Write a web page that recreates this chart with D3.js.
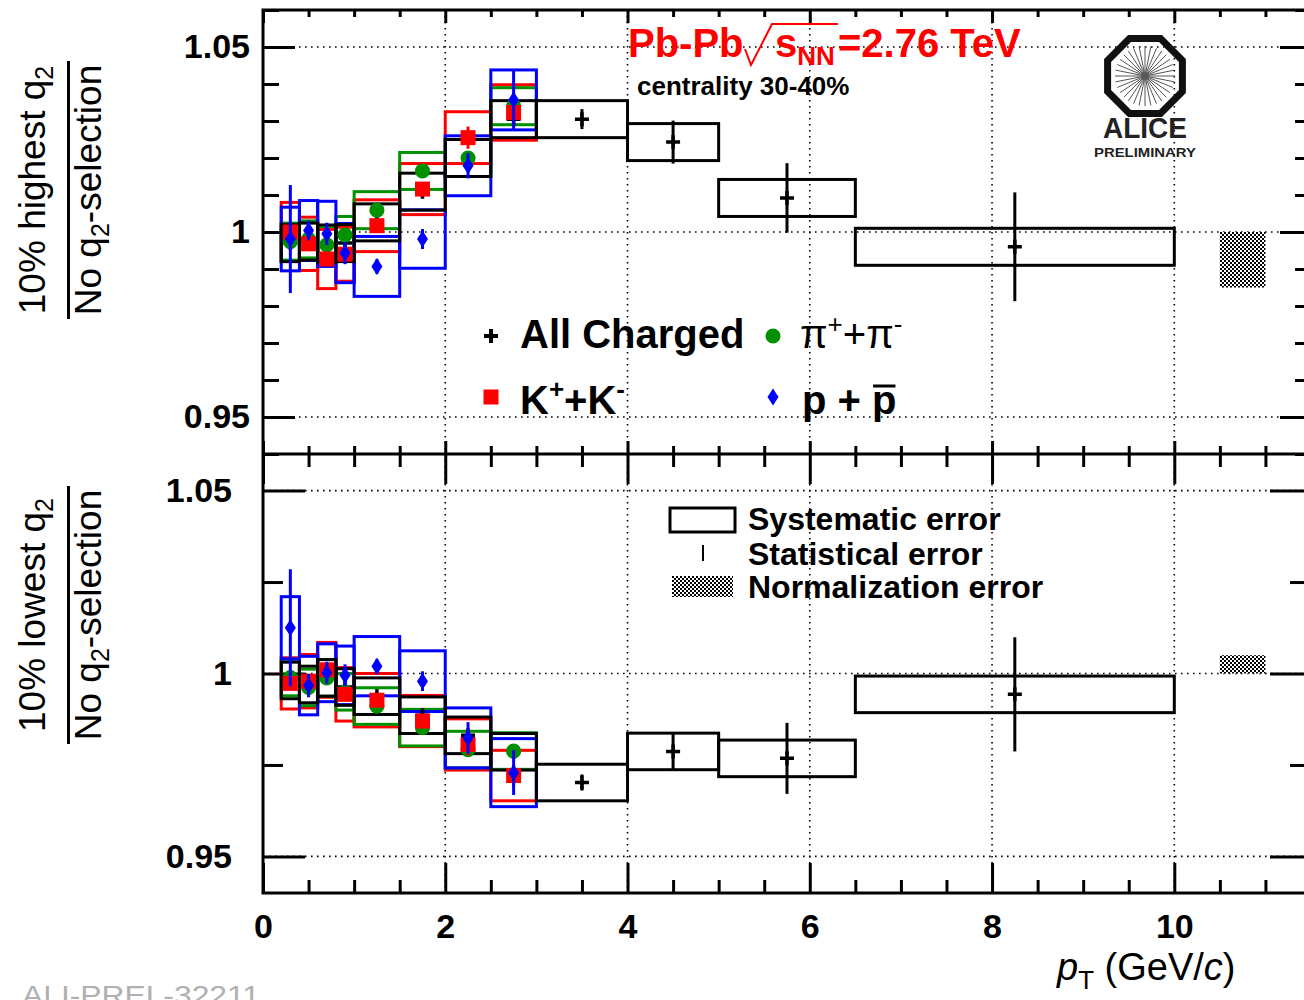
<!DOCTYPE html>
<html lang="en">
<head>
<meta charset="utf-8">
<title>q2 selection ratio</title>
<script src="https://cdn.jsdelivr.net/npm/d3@7"></script>
<style>
  body { margin: 0; background: #fff; }
  svg { display: block; }
  text { font-family: "Liberation Sans", Arial, sans-serif; }
  .tlab { font-weight: bold; font-size: 34px; }
</style>
</head>
<body>
<script>
// ---- bins (pT, GeV/c) ----
var idLo = [0.2, 0.4, 0.6, 0.8, 1.0, 1.5, 2.0, 2.5];
var idHi = [0.4, 0.6, 0.8, 1.0, 1.5, 2.0, 2.5, 3.0];
var idPt = [0.3, 0.5, 0.7, 0.9, 1.25, 1.75, 2.25, 2.75];
var chLo = [0.2, 0.4, 0.6, 0.8, 1.0, 1.5, 2.0, 2.5, 3.0, 4.0, 5.0, 6.5];
var chHi = [0.4, 0.6, 0.8, 1.0, 1.5, 2.0, 2.5, 3.0, 4.0, 5.0, 6.5, 10.0];
var chPt = [0.3, 0.5, 0.7, 0.9, 1.25, 1.75, 2.25, 2.75, 3.5, 4.5, 5.75, 8.25];

// ---- 10% highest q2 ----
var chHigh     = [0.997, 0.9974, 0.9969, 0.9970, 1.0026, 1.0109, 1.0200, 1.0305, 1.0305, 1.0243, 1.0092, 0.9960];
var chHighStat = [0.001, 0.001, 0.001, 0.001, 0.001, 0.001, 0.001, 0.0015, 0.0027, 0.0058, 0.0094, 0.0147];
var chHighSys  = [0.005, 0.005, 0.005, 0.005, 0.005, 0.005, 0.005, 0.005, 0.005, 0.005, 0.005, 0.005];
var piHigh     = [0.9974, 0.9980, 0.9965, 0.9992, 1.0059, 1.0165, 1.0200, 1.0340];
var piHighStat = [0.001, 0.001, 0.001, 0.001, 0.001, 0.001, 0.0015, 0.0015];
var piHighSys  = [0.005, 0.005, 0.005, 0.005, 0.005, 0.005, 0.005, 0.005];
var kHigh      = [1.0000, 0.9968, 0.9927, 0.9940, 1.0017, 1.0116, 1.0255, 1.0323];
var kHighStat  = [0.0015, 0.0015, 0.0015, 0.0015, 0.0015, 0.0015, 0.003, 0.003];
var kHighSys   = [0.008, 0.0072, 0.008, 0.0073, 0.007, 0.0069, 0.007, 0.0075];
var pHigh      = [0.9981, 1.0004, 0.9995, 0.9943, 0.9907, 0.9981, 1.0179, 1.0357];
var pHighStat  = [0.0146, 0.0027, 0.003, 0.003, 0.002, 0.0027, 0.0034, 0.0079];
var pHighSys   = [0.0086, 0.0081, 0.0088, 0.008, 0.0081, 0.0079, 0.0081, 0.0081];
var normHigh   = [0.985, 1.0];

// ---- 10% lowest q2 ----
var chLow     = [0.9981, 0.9970, 0.9988, 0.9963, 0.9938, 0.9886, 0.9831, 0.9786, 0.9702, 0.9787, 0.9768, 0.9943];
var chLowStat = [0.001, 0.001, 0.001, 0.001, 0.001, 0.001, 0.001, 0.001, 0.0022, 0.0052, 0.0097, 0.0156];
var chLowSys  = [0.005, 0.005, 0.005, 0.005, 0.005, 0.005, 0.005, 0.005, 0.005, 0.005, 0.005, 0.005];
var piLow     = [0.9989, 0.9962, 0.9988, 0.9950, 0.9911, 0.9852, 0.9792, 0.9788];
var piLowStat = [0.001, 0.001, 0.001, 0.001, 0.001, 0.001, 0.0015, 0.0015];
var piLowSys  = [0.005, 0.005, 0.005, 0.005, 0.005, 0.005, 0.005, 0.005];
var kLow      = [0.9973, 0.9979, 1.0010, 0.9943, 0.9927, 0.9870, 0.9806, 0.9721];
var kLowStat  = [0.0015, 0.0015, 0.0015, 0.0015, 0.0015, 0.0015, 0.003, 0.003];
var kLowSys   = [0.007, 0.0073, 0.0075, 0.0073, 0.0073, 0.007, 0.007, 0.0069];
var pLow      = [1.0125, 0.9967, 1.0002, 0.9995, 1.0020, 0.9979, 0.9824, 0.9729];
var pLowStat  = [0.016, 0.0032, 0.003, 0.003, 0.002, 0.0027, 0.0043, 0.0061];
var pLowSys   = [0.0085, 0.008, 0.0079, 0.008, 0.0081, 0.0083, 0.0082, 0.0093];
var normLow   = [1.0, 1.005];
var normPt    = [10.5, 11.0];

// ---- axes ----
var xMajor = [0, 2, 4, 6, 8, 10];
var xTickLabels = ["0", "2", "4", "6", "8", "10"];
var yMajor = [0.95, 1, 1.05];
var yTickLabels = ["0.95", "1", "1.05"];

var w = 1304, h = 1000;
var xL = 263, xR = 1311, yT = 10, yM = 454, yB = 893;

var svg = d3.select("body").append("svg").attr("width", w).attr("height", h);

var defs = svg.append("defs");
var pat = defs.append("pattern").attr("id", "chk").attr("width", 4).attr("height", 4)
    .attr("patternUnits", "userSpaceOnUse");
pat.append("rect").attr("width", 4).attr("height", 4).attr("fill", "#fff");
pat.append("rect").attr("width", 2).attr("height", 2).attr("fill", "#000");
pat.append("rect").attr("x", 2).attr("y", 2).attr("width", 2).attr("height", 2).attr("fill", "#000");

var x = d3.scaleLinear().domain([0, 11.5]).range([xL, xR]);
var yHi = d3.scaleLinear().domain([0.94, 1.06]).range([yM, yT]);
var yLo = d3.scaleLinear().domain([0.94, 1.06]).range([yB, yM]);

var xMinor = d3.range(1, 23).map(function(v) { return v / 2; }).filter(function(v) { return v % 2 !== 0; });

// grid (dotted)
function grid(y, top, bottom) {
    var g = svg.append("g").attr("stroke", "#000").attr("stroke-width", 1.6)
        .attr("stroke-dasharray", "1.6,4.4");
    xMajor.slice(1).forEach(function(v) {
        g.append("line").attr("x1", x(v)).attr("x2", x(v)).attr("y1", top).attr("y2", bottom);
    });
    yMajor.forEach(function(v) {
        g.append("line").attr("x1", xL).attr("x2", xR).attr("y1", y(v)).attr("y2", y(v));
    });
}
grid(yHi, yT, yM);
grid(yLo, yM, yB);

function addAxis(axis, tr) {
    var g = svg.append("g").attr("transform", tr).call(axis);
    g.select(".domain").remove();
    g.selectAll(".tick line").attr("stroke", "#000").attr("stroke-width", 3);
    return g;
}
function fmtY(d) { return yTickLabels[yMajor.indexOf(d)] || ""; }

// top panel y ticks
var yHiMinor = d3.range(94, 107).map(function(v) { return v / 100; })
    .filter(function(v) { return yMajor.indexOf(v) < 0; });
addAxis(d3.axisLeft(yHi).tickValues(yMajor).tickSizeInner(-32).tickSizeOuter(0).tickPadding(13).tickFormat(fmtY), "translate(" + xL + ",0)")
    .selectAll("text").attr("class", "tlab").attr("fill", "#000");
addAxis(d3.axisLeft(yHi).tickValues(yHiMinor).tickSizeInner(-16).tickSizeOuter(0).tickFormat(""), "translate(" + xL + ",0)");
addAxis(d3.axisRight(yHi).tickValues(yMajor).tickSizeInner(-31).tickSizeOuter(0).tickFormat(""), "translate(" + xR + ",0)");
addAxis(d3.axisRight(yHi).tickValues(yHiMinor).tickSizeInner(-16).tickSizeOuter(0).tickFormat(""), "translate(" + xR + ",0)");

// bottom panel y ticks
var yLoMinor = [0.975, 1.025];
addAxis(d3.axisLeft(yLo).tickValues(yMajor).tickSizeInner(-42).tickSizeOuter(0).tickPadding(31).tickFormat(fmtY), "translate(" + xL + ",0)")
    .selectAll("text").attr("class", "tlab").attr("fill", "#000");
addAxis(d3.axisLeft(yLo).tickValues(yLoMinor).tickSizeInner(-20).tickSizeOuter(0).tickFormat(""), "translate(" + xL + ",0)");
addAxis(d3.axisRight(yLo).tickValues(yMajor).tickSizeInner(-41).tickSizeOuter(0).tickFormat(""), "translate(" + xR + ",0)");
addAxis(d3.axisRight(yLo).tickValues(yLoMinor).tickSizeInner(-21).tickSizeOuter(0).tickFormat(""), "translate(" + xR + ",0)");

// x ticks
addAxis(d3.axisTop(x).tickValues(xMajor).tickSizeInner(-13).tickSizeOuter(0).tickFormat(""), "translate(0," + yT + ")");
addAxis(d3.axisTop(x).tickValues(xMinor).tickSizeInner(-7).tickSizeOuter(0).tickFormat(""), "translate(0," + yT + ")");
addAxis(d3.axisBottom(x).tickValues(xMajor).tickSizeInner(-13).tickSizeOuter(0).tickFormat(""), "translate(0," + yM + ")");
addAxis(d3.axisBottom(x).tickValues(xMinor).tickSizeInner(-8).tickSizeOuter(0).tickFormat(""), "translate(0," + yM + ")");
addAxis(d3.axisTop(x).tickValues(xMajor).tickSizeInner(-30).tickSizeOuter(0).tickFormat(""), "translate(0," + yM + ")");
addAxis(d3.axisTop(x).tickValues(xMinor).tickSizeInner(-13).tickSizeOuter(0).tickFormat(""), "translate(0," + yM + ")");
addAxis(d3.axisBottom(x).tickValues(xMajor).tickSizeInner(-30).tickSizeOuter(0).tickPadding(21)
        .tickFormat(function(d, i) { return xTickLabels[i]; }), "translate(0," + yB + ")")
    .selectAll("text").attr("class", "tlab").attr("fill", "#000");
addAxis(d3.axisBottom(x).tickValues(xMinor).tickSizeInner(-13).tickSizeOuter(0).tickFormat(""), "translate(0," + yB + ")");

// frame
var fr = svg.append("g").attr("stroke", "#000").attr("stroke-width", 3).attr("fill", "none");
fr.append("path").attr("d", "M" + xR + "," + yT + "H" + xL + "V" + yB + "H" + xR);
fr.append("line").attr("x1", xL).attr("x2", xR).attr("y1", yM).attr("y2", yM);
fr.append("line").attr("x1", xR).attr("x2", xR).attr("y1", yT).attr("y2", yB);

// ---- data ----
var markers = {
    cross: "M-7,0H7M0,-7V7",
    circle: d3.symbol(d3.symbolCircle, 180)(),
    square: "M-7.5,-7.5H7.5V7.5H-7.5Z",
    diamond: "M0,-8.5L5.5,0L0,8.5L-5.5,0Z"
};

function drawPanel(y, series) {
    var g = svg.append("g");
    // systematic boxes
    series.forEach(function(s) {
        g.append("g").selectAll("rect").data(s.val).enter().append("rect")
            .attr("x", function(d, i) { return x(s.lo[i]); })
            .attr("width", function(d, i) { return x(s.hi[i]) - x(s.lo[i]); })
            .attr("y", function(d, i) { return y(d + s.sys[i]); })
            .attr("height", function(d, i) { return y(d - s.sys[i]) - y(d + s.sys[i]); })
            .attr("fill", "none").attr("stroke", s.color).attr("stroke-width", 3);
    });
    // markers + stat bars
    series.slice().sort(function(a, b) { return a.order - b.order; }).forEach(function(s) {
        var sg = g.append("g");
        sg.selectAll("line").data(s.val).enter().append("line")
            .attr("x1", function(d, i) { return x(s.pt[i]); })
            .attr("x2", function(d, i) { return x(s.pt[i]); })
            .attr("y1", function(d, i) { return y(d + s.stat[i]); })
            .attr("y2", function(d, i) { return y(d - s.stat[i]); })
            .attr("stroke", s.color).attr("stroke-width", 3);
        sg.selectAll("path").data(s.val).enter().append("path")
            .attr("d", markers[s.marker])
            .attr("transform", function(d, i) { return "translate(" + x(s.pt[i]) + "," + y(d) + ")"; })
            .attr("fill", s.marker === "cross" ? "none" : s.color)
            .attr("stroke", s.marker === "cross" ? s.color : "none")
            .attr("stroke-width", 3.5);
    });
}

var cRed = "#ff0000", cGreen = "#009000", cBlue = "#0000ff", cBlack = "#000";

drawPanel(yHi, [
    { color: cRed, lo: idLo, hi: idHi, pt: idPt, val: kHigh, sys: kHighSys, stat: kHighStat, marker: "square", order: 2 },
    { color: cGreen, lo: idLo, hi: idHi, pt: idPt, val: piHigh, sys: piHighSys, stat: piHighStat, marker: "circle", order: 1 },
    { color: cBlue, lo: idLo, hi: idHi, pt: idPt, val: pHigh, sys: pHighSys, stat: pHighStat, marker: "diamond", order: 3 },
    { color: cBlack, lo: chLo, hi: chHi, pt: chPt, val: chHigh, sys: chHighSys, stat: chHighStat, marker: "cross", order: 0 }
]);
drawPanel(yLo, [
    { color: cRed, lo: idLo, hi: idHi, pt: idPt, val: kLow, sys: kLowSys, stat: kLowStat, marker: "square", order: 2 },
    { color: cGreen, lo: idLo, hi: idHi, pt: idPt, val: piLow, sys: piLowSys, stat: piLowStat, marker: "circle", order: 1 },
    { color: cBlue, lo: idLo, hi: idHi, pt: idPt, val: pLow, sys: pLowSys, stat: pLowStat, marker: "diamond", order: 3 },
    { color: cBlack, lo: chLo, hi: chHi, pt: chPt, val: chLow, sys: chLowSys, stat: chLowStat, marker: "cross", order: 0 }
]);

// normalization error bands
[[yHi, normHigh], [yLo, normLow]].forEach(function(p) {
    svg.append("rect").attr("x", x(normPt[0])).attr("width", x(normPt[1]) - x(normPt[0]))
        .attr("y", p[0](p[1][1])).attr("height", p[0](p[1][0]) - p[0](p[1][1]))
        .attr("fill", "url(#chk)");
});

// ---- title ----
var t = svg.append("text").attr("y", 57).attr("fill", "#ff0000").attr("font-weight", "bold").attr("font-size", 40);
t.append("tspan").attr("x", 628).text("Pb-Pb");
t.append("tspan").attr("x", 775).text("s");
t.append("tspan").attr("dy", 8).attr("font-size", 26).text("NN");
t.append("tspan").attr("x", 838).attr("dy", -8).text("=2.76 TeV");
svg.append("path").attr("d", "M745,49L751,65L772,24H838").attr("fill", "none")
    .attr("stroke", "#ff0000").attr("stroke-width", 2);
svg.append("text").attr("x", 637).attr("y", 95).attr("font-weight", "bold").attr("font-size", 26)
    .text("centrality 30-40%");

// ---- ALICE logo ----
var logo = svg.append("g").attr("transform", "translate(1145,76)");
logo.selectAll("line").data(d3.range(32)).enter().append("line")
    .attr("x1", 0).attr("y1", 0)
    .attr("x2", function(d) { return 30 * Math.cos(d * Math.PI / 16); })
    .attr("y2", function(d) { return 30 * Math.sin(d * Math.PI / 16); })
    .attr("stroke", "#555").attr("stroke-width", 1);
logo.append("path")
    .attr("d", "M" + d3.range(8).map(function(k) {
        var a = Math.PI / 8 + k * Math.PI / 4;
        return (40.5 * Math.cos(a)).toFixed(1) + "," + (40.5 * Math.sin(a)).toFixed(1);
    }).join("L") + "Z")
    .attr("fill", "none").attr("stroke", "#111").attr("stroke-width", 7);
svg.append("text").attr("x", 1145).attr("y", 138).attr("text-anchor", "middle")
    .attr("font-family", "DejaVu Sans Mono").attr("font-weight", "bold").attr("font-size", 29).attr("fill", "#222")
    .attr("textLength", 84).attr("lengthAdjust", "spacingAndGlyphs").text("ALICE");
svg.append("text").attr("x", 1145).attr("y", 157).attr("text-anchor", "middle")
    .attr("font-family", "DejaVu Sans Mono").attr("font-weight", "bold").attr("font-size", 13).attr("fill", "#222")
    .attr("textLength", 102).attr("lengthAdjust", "spacingAndGlyphs").text("PRELIMINARY");

// ---- species legend ----
var lg = svg.append("g");
lg.append("path").attr("d", markers.cross).attr("transform", "translate(491,336)")
    .attr("stroke", "#000").attr("stroke-width", 4).attr("fill", "none");
lg.append("text").attr("x", 520).attr("y", 348).attr("font-weight", "bold").attr("font-size", 40).text("All Charged");
lg.append("path").attr("d", markers.circle).attr("transform", "translate(773,336)").attr("fill", cGreen);
var pi = lg.append("text").attr("x", 800).attr("y", 348).attr("font-family", "Liberation Serif").attr("font-size", 40);
pi.append("tspan").text("π");
pi.append("tspan").attr("dy", -15).attr("font-size", 26).text("+");
pi.append("tspan").attr("dy", 15).text("+π");
pi.append("tspan").attr("dy", -15).attr("font-size", 26).text("-");
lg.append("path").attr("d", markers.square).attr("transform", "translate(491,397)").attr("fill", cRed);
var kk = lg.append("text").attr("x", 520).attr("y", 414).attr("font-weight", "bold").attr("font-size", 40);
kk.append("tspan").text("K");
kk.append("tspan").attr("dy", -16).attr("font-size", 26).text("+");
kk.append("tspan").attr("dy", 16).text("+K");
kk.append("tspan").attr("dy", -16).attr("font-size", 26).text("-");
lg.append("path").attr("d", markers.diamond).attr("transform", "translate(773,397)").attr("fill", cBlue);
var pp = lg.append("text").attr("x", 802).attr("y", 414).attr("font-weight", "bold").attr("font-size", 40)
    .style("white-space", "pre").text("p + ");
var ppw = pp.node().getComputedTextLength();
var pb = lg.append("text").attr("x", 802 + ppw).attr("y", 414).attr("font-weight", "bold").attr("font-size", 40).text("p");
var pbw = pb.node().getComputedTextLength();
lg.append("line").attr("x1", 802 + ppw + 1).attr("x2", 802 + ppw + pbw - 1).attr("y1", 386).attr("y2", 386)
    .attr("stroke", "#000").attr("stroke-width", 3);

// ---- error legend ----
var el = svg.append("g");
el.append("rect").attr("x", 670).attr("y", 508).attr("width", 65).attr("height", 24)
    .attr("fill", "none").attr("stroke", "#000").attr("stroke-width", 3);
el.append("line").attr("x1", 703).attr("x2", 703).attr("y1", 545).attr("y2", 561)
    .attr("stroke", "#000").attr("stroke-width", 2);
el.append("rect").attr("x", 672).attr("y", 576).attr("width", 61).attr("height", 21).attr("fill", "url(#chk)");
[["Systematic error", 530], ["Statistical error", 565], ["Normalization error", 598]].forEach(function(r) {
    el.append("text").attr("x", 748).attr("y", r[1]).attr("font-weight", "bold").attr("font-size", 32).text(r[0]);
});

// ---- axis titles ----
function yTitle(cy, num) {
    var g = svg.append("g").attr("transform", "translate(0," + cy + ") rotate(-90)");
    var a = g.append("text").attr("x", 0).attr("y", 45).attr("text-anchor", "middle").attr("font-size", 37);
    a.append("tspan").text(num + " q");
    a.append("tspan").attr("dy", 8).attr("font-size", 25).text("2");
    var b = g.append("text").attr("x", 0).attr("y", 101).attr("text-anchor", "middle").attr("font-size", 37);
    b.append("tspan").text("No q");
    b.append("tspan").attr("dy", 8).attr("font-size", 25).text("2");
    b.append("tspan").attr("dy", -8).text("-selection");
    g.append("line").attr("x1", -129).attr("x2", 129).attr("y1", 68.5).attr("y2", 68.5)
        .attr("stroke", "#000").attr("stroke-width", 3);
}
yTitle(190, "10% highest");
yTitle(615, "10% lowest");

var xt = svg.append("text").attr("x", 1057).attr("y", 980).attr("font-size", 38);
xt.append("tspan").attr("font-style", "italic").text("p");
xt.append("tspan").attr("dy", 9).attr("font-size", 26).text("T");
xt.append("tspan").attr("dy", -9).text(" (GeV/");
xt.append("tspan").attr("font-style", "italic").text("c");
xt.append("tspan").text(")");

svg.append("text").attr("x", 22).attr("y", 1005).attr("font-family", "Liberation Mono").attr("font-size", 28)
    .attr("textLength", 238).attr("lengthAdjust", "spacingAndGlyphs")
    .attr("fill", "#b0b0b0").text("ALI-PREL-32211");
</script>
</body>
</html>
